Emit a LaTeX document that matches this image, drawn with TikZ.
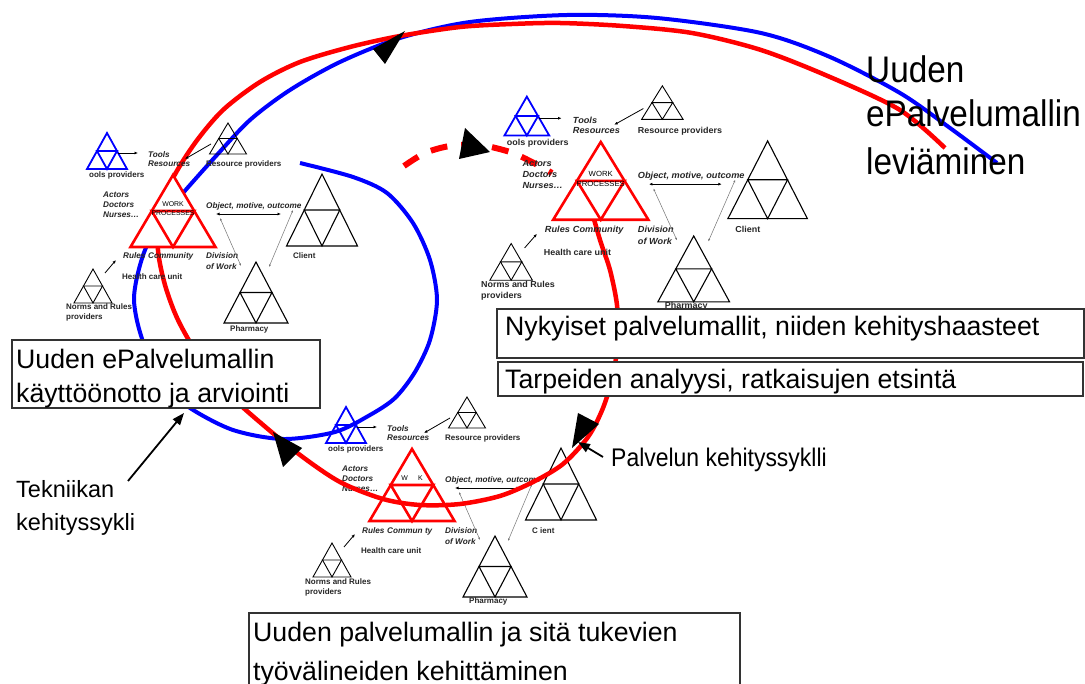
\documentclass[tikz,border=0pt]{standalone}
\usepackage{fontspec}
\setmainfont{Liberation Sans}
\newfontfamily\narrowsans[FakeStretch=0.9]{Liberation Sans}
\usetikzlibrary{arrows.meta}

% subdivided triangle: style, apex x, apex y, width, height
\newcommand\sierp[5]{%
  \draw[#1] (#2,#3) -- (#2-#4/2,#3+#5) -- (#2+#4/2,#3+#5) -- cycle;
  \draw[#1,fill=none] (#2-#4/4,#3+#5/2) -- (#2+#4/4,#3+#5/2) -- (#2,#3+#5) -- cycle;}

% one activity system: prefix, label line 1, label line 2, community, client,
% fill of the central triangle, baseline of the pharmacy label
\newcommand\actsys[7]{%
  \sierp{bluetri}{107}{133}{40}{36}
  \sierp{thintri}{228}{123}{37}{31}
  \sierp{redtri,#6}{173}{175}{85}{72}
  \sierp{blacktri}{322}{174}{71}{72}
  \sierp{blacktri}{256}{262}{64}{61}
  \sierp{thintri}{93}{269}{38}{34}
  \node[wptext] (#1wk) at (173,207) {#2};
  \node[wptext] (#1pr) at (173,216) {#3};
  \node[lblb]  (#1tp) at (89,178) {ools providers};
  \node[lblbi] (#1to) at (148,158) {Tools};
  \node[lblbi] (#1re) at (148,167) {Resources};
  \node[lblb]  (#1rp) at (206,167) {Resource providers};
  \node[lblbi] (#1ac) at (103,198) {Actors};
  \node[lblbi] (#1dc) at (103,208) {Doctors};
  \node[lblbi] (#1nu) at (103,218) {Nurses…};
  \node[lblbi] (#1ob) at (206,209) {Object, motive, outcome};
  \node[lblbi] (#1dv) at (206,259) {Division};
  \node[lblbi] (#1ow) at (206,270) {of Work};
  \node[lblb]  (#1cl) at (293,259) {#5};
  \node[lblbi] (#1ru) at (123,259) {Rules};
  \node[lblbi] (#1co) at (148,259) {#4};
  \node[lblb]  (#1hc) at (122,280) {Health care unit};
  \node[lblb]  (#1nr) at (66,310) {Norms and Rules};
  \node[lblb]  (#1pv) at (66,320) {providers};
  \node[lblb]  (#1ph) at (230,#7) {Pharmacy};
  \coordinate (#1t1) at (118,153); \coordinate (#1t2) at (138,153);
  \coordinate (#1r1) at (211,144); \coordinate (#1r2) at (185,159);
  \coordinate (#1o1) at (216,214); \coordinate (#1o2) at (281,214);
  \coordinate (#1d1) at (220,218); \coordinate (#1d2) at (241,266);
  \coordinate (#1c1) at (293,210); \coordinate (#1c2) at (269,267);
  \coordinate (#1n1) at (105,273); \coordinate (#1n2) at (116,260);
  \draw[tiparrow] (#1t1) -- (#1t2);
  \draw[tiparrow] (#1r1) -- (#1r2);
  \draw[dbarrow] (#1o1) -- (#1o2);
  \draw[greyarrow] (#1d1) -- (#1d2);
  \draw[greyarrow] (#1c1) -- (#1c2);
  \draw[tiparrow] (#1n1) -- (#1n2);
}

\begin{document}
\begin{tikzpicture}[x=1pt,y=-1pt,
  lblb/.style={font=\fontsize{8}{9}\selectfont\bfseries, text=black!85, inner sep=0pt, anchor=base west},
  lblbi/.style={font=\fontsize{8.2}{9}\selectfont\bfseries\itshape, text=black!85, inner sep=0pt, anchor=base west},
  wptext/.style={font=\fontsize{6.9}{7}\selectfont, text=black, inner sep=0pt, anchor=base},
  bluetri/.style={draw=blue, line width=1.8pt},
  redtri/.style={draw=red, line width=2.6pt},
  blacktri/.style={draw=black, line width=1.1pt},
  thintri/.style={draw=black, line width=0.9pt},
  tiparrow/.style={line width=0.8pt, -{Latex[length=3.5pt,width=3pt]}},
  dbarrow/.style={line width=0.8pt, {Latex[length=3.5pt,width=3pt]}-{Latex[length=3.5pt,width=3pt]}},
  greyarrow/.style={draw=black!55, line width=0.5pt, {Latex[length=2.5pt,width=2pt]}-{Latex[length=2.5pt,width=2pt]}},
  bluepath/.style={draw=blue, line width=4pt},
  redpath/.style={draw=red, line width=4.5pt},
  dashpath/.style={draw=red, line width=6pt, dash pattern=on 17pt off 14pt},
  headfill/.style={fill=black},
  boxframe/.style={draw=black!80, line width=1.3pt, fill=white, inner sep=0pt},
  bigtext/.style={font=\fontsize{26.7}{30}\selectfont, inner sep=0pt, anchor=base west},
  midtext/.style={font=\fontsize{23.5}{28}\selectfont, inner sep=0pt, anchor=base west},
  condmid/.style={font=\narrowsans\fontsize{25.5}{30}\selectfont, inner sep=0pt, anchor=base west},
  condbig/.style={font=\narrowsans\fontsize{37}{44}\selectfont, inner sep=0pt, anchor=base west},
  callout/.style={line width=1.8pt, -{Triangle[length=12pt,width=9pt]}}
]
\useasboundingbox (0,0) rectangle (1085,684);
\fill[white] (0,0) rectangle (1085,684);

% lower activity system (the curves run over it)
\begin{scope}[shift={(239,274)}]
  \actsys{c}{W\phantom{OR}K}{}{Commun\phantom{i}ty}{C\phantom{l}ient}{}{329}
\end{scope}

% technology development cycle
\draw[bluepath] plot[smooth] coordinates {(300,163) (353,177) (387,193) (413,223) (430,260) (437,300) (430,340) (415,372) (395,398) (370,415) (335,432) (283,439) (233,430) (190,408) (165,385) (148,355) (138,325) (134,300) (137,277) (145,250) (160,220) (183,193) (216,156) (250,120) (290,90) (340,62) (400,38) (470,22) (567,15) (657,18) (761,33) (830,57) (900,93) (950,128) (997,163)};

% service development cycle
\draw[redpath] plot[smooth] coordinates {(945,148) (900,110) (830,77) (761,50) (692,33) (623,26) (560,23) (512,24) (460,27) (400,36) (350,47) (300,62) (260,82) (223,110) (195,143) (172,180) (160,215) (158,250) (165,285) (178,320) (200,358) (230,395) (262,424) (300,455) (340,482) (383,499) (420,505) (460,504) (500,496) (533,482) (563,464) (588,437) (603,408) (613,375) (618,340) (617,305) (610,270) (600,240) (590,205)};
\draw[dashpath] plot[smooth] coordinates {(404,166) (425,153) (450,146) (480,145) (510,152) (530,161) (552,173)};

% arrowheads on the cycles
\fill[headfill] (373,49) -- (405,31) -- (385,64) -- cycle;
\fill[headfill] (465,128) -- (490,152) -- (459,159) -- cycle;
\fill[headfill] (273,432) -- (302,448) -- (283,467) -- cycle;
\fill[headfill] (578,413) -- (599,424) -- (572,448) -- cycle;

% left and right activity systems
\actsys{a}{WORK}{PROCESSES}{Community}{Client}{fill=white}{332}
\begin{scope}[shift={(407,-47)}, xscale=1.12, yscale=1.08, transform shape]
  \actsys{b}{WORK}{PROCESSES}{Community}{Client}{fill=white}{329}
\end{scope}

% phase boxes
\node[boxframe, minimum width=587pt, minimum height=49pt] (nykbox) at (790.5,333.5) {};
\node[boxframe, minimum width=585pt, minimum height=34pt] (tarbox) at (790.5,379) {};
\node[boxframe, minimum width=308pt, minimum height=68pt] (kaybox) at (166,374) {};
\node[boxframe, minimum width=491pt, minimum height=87pt] (kehbox) at (494.5,656.5) {};

\node[bigtext] (nyk)  at (505,336) {Nykyiset palvelumallit, niiden kehityshaasteet};
\node[bigtext] (tarp) at (505,389) {Tarpeiden analyysi, ratkaisujen etsintä};
\node[bigtext] (kay1) at (16,369) {Uuden ePalvelumallin};
\node[bigtext] (kay2) at (16,403) {käyttöönotto ja arviointi};
\node[bigtext] (keh1) at (253,641) {Uuden palvelumallin ja sitä tukevien};
\node[bigtext] (keh2) at (253,680) {työvälineiden kehittäminen};

% cycle names
\node[midtext] (tek1) at (16,497) {Tekniikan};
\node[midtext] (tek2) at (16,530) {kehityssykli};
\node[condmid] (pal) at (611,467) {Palvelun kehityssyklli};
\node[condbig] (lev1) at (866,83) {Uuden};
\node[condbig] (lev2) at (866,127) {ePalvelumallin};
\node[condbig] (lev3) at (866,175) {leviäminen};

\coordinate (tekA) at (128,481); \coordinate (tekB) at (184,413);
\draw[callout] (tekA) -- (tekB);
\coordinate (palA) at (603,457); \coordinate (palB) at (578,442);
\draw[callout] (palA) -- (palB);
\end{tikzpicture}
\end{document}
